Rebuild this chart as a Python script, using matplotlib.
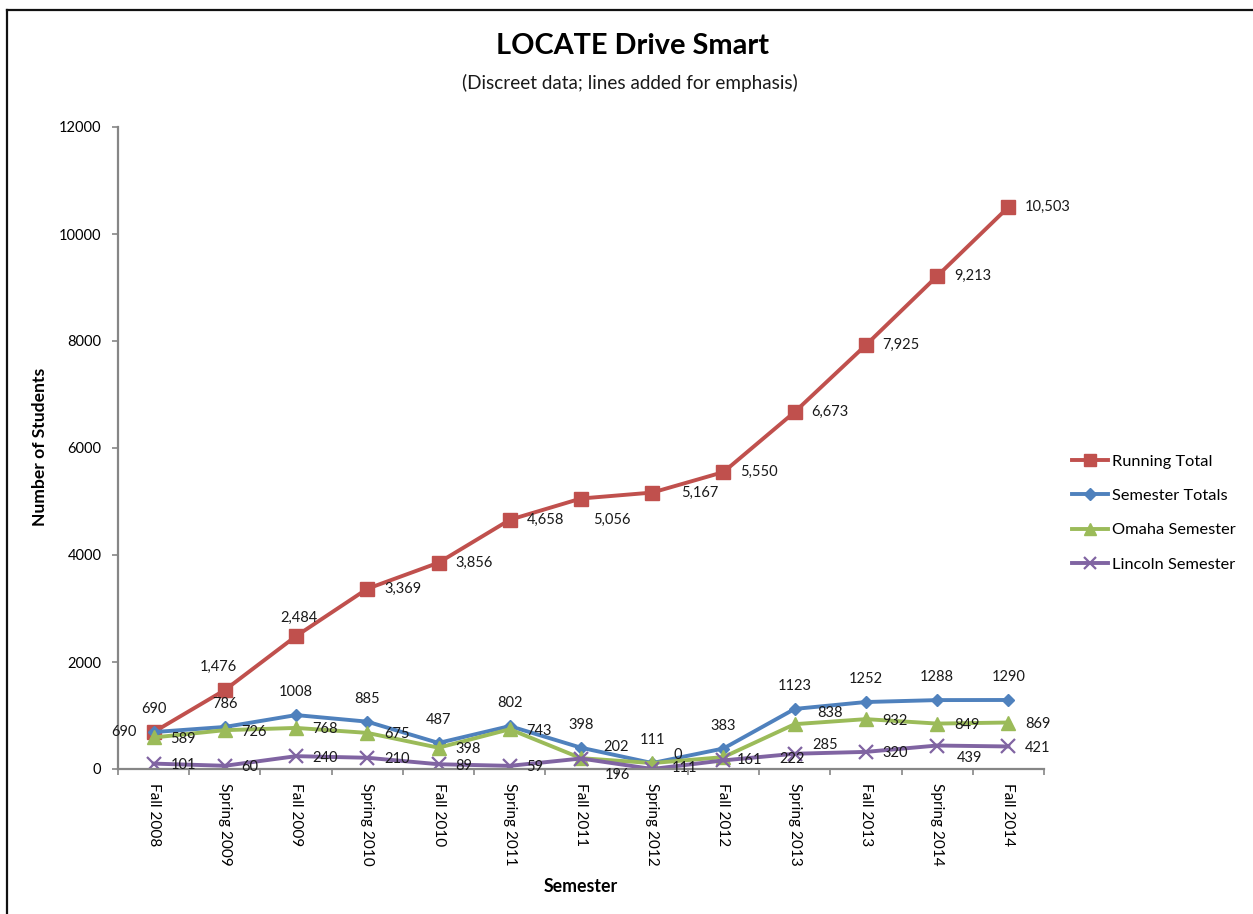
import matplotlib
matplotlib.use("Agg")
import matplotlib.pyplot as plt
from matplotlib.lines import Line2D
import numpy as np

plt.rcParams['font.family'] = ['Lato', 'DejaVu Sans']

semesters = ["Fall 2008", "Spring 2009", "Fall 2009", "Spring 2010", "Fall 2010",
             "Spring 2011", "Fall 2011", "Spring 2012", "Fall 2012", "Spring 2013",
             "Fall 2013", "Spring 2014", "Fall 2014"]
running_total = [690, 1476, 2484, 3369, 3856, 4658, 5056, 5167, 5550, 6673, 7925, 9213, 10503]
semester_totals = [690, 786, 1008, 885, 487, 802, 398, 111, 383, 1123, 1252, 1288, 1290]
omaha_semester = [589, 726, 768, 675, 398, 743, 202, 111, 222, 838, 932, 849, 869]
lincoln_semester = [101, 60, 240, 210, 89, 59, 196, 0, 161, 285, 320, 439, 421]
y_ticks = [0, 2000, 4000, 6000, 8000, 10000, 12000]

W, H = 1253, 914
fig = plt.figure(figsize=(W / 100, H / 100), dpi=100)
fig.patch.set_facecolor('white')

ax = fig.add_axes([118 / W, 1 - 769 / H, (1044 - 118) / W, (769 - 127) / H])
x = np.arange(len(semesters))

series = [
    ("Running Total", running_total, '#C0504D', dict(marker='s', markersize=9.5)),
    ("Semester Totals", semester_totals, '#4F81BD', dict(marker='D', markersize=6.5)),
    ("Omaha Semester", omaha_semester, '#9BBB59', dict(marker='^', markersize=9.5)),
    ("Lincoln Semester", lincoln_semester, '#8064A2', dict(marker='x', markersize=9.5, markeredgewidth=1.6)),
]
for name, vals, col, mk in series:
    ax.plot(x, vals, color=col, linewidth=2.8, label=name,
            markerfacecolor=col, markeredgecolor=col, **mk)

# Data labels
fs = 10.5
def lab(vals, fmt, default, overrides):
    for i, v in enumerate(vals):
        dx, dy, ha = overrides.get(i, default)
        ax.annotate(fmt(v), (x[i], v), xytext=(dx, dy), textcoords='offset points',
                    ha=ha, va='center', fontsize=fs, color='#1a1a1a', zorder=10)

lab(running_total, lambda v: f"{v:,}", (12, 0, 'left'),
    {0: (-12, 0, 'right'), 1: (-5, 16.5, 'center'), 2: (2, 13, 'center'),
     6: (8.5, -15.5, 'left'), 7: (21, 0, 'left')})
lab(semester_totals, lambda v: f"{v}", (0, 16.5, 'center'), {})
lab(omaha_semester, lambda v: f"{v}", (12, -1, 'left'),
    {6: (16, 8, 'left'), 7: (14, -3.5, 'left'), 8: (40, -1.5, 'left'), 9: (16, 8, 'left')})
lab(lincoln_semester, lambda v: f"{v}", (12, -1, 'left'),
    {6: (17, -12, 'left'), 7: (15, 10, 'left'), 8: (9.5, 0, 'left'),
     9: (13, 6.5, 'left'), 11: (14.5, -9, 'left')})

# Axes styling
ax.set_xlim(-0.5, len(semesters) - 0.5)
ax.set_ylim(0, 12000)
ax.set_yticks(y_ticks)
ax.set_yticklabels([str(t) for t in y_ticks], fontsize=fs)
ax.set_xticks(np.arange(-0.5, len(semesters), 1.0))
ax.set_xticklabels([])
ax.set_xticks(x, minor=True)
ax.set_xticklabels(semesters, minor=True, rotation=270, fontsize=fs + 0.6, va='top', ha='center')
ax.tick_params(axis='x', which='minor', length=0, pad=10)
ax.tick_params(axis='x', which='major', length=4, width=1.2, color='#868686', direction='out')
ax.tick_params(axis='y', length=4, width=1.2, color='#868686', direction='out', pad=8)
for s in ['top', 'right']:
    ax.spines[s].set_visible(False)
for s in ['left', 'bottom']:
    ax.spines[s].set_color('#868686')
    ax.spines[s].set_linewidth(1.6)

# Titles
fig.text(632 / W, 1 - 46 / H, "LOCATE Drive Smart", ha='center', va='center',
         fontsize=20.8, fontweight='bold', color='black')
fig.text(629.5 / W, 1 - 83 / H, "(Discreet data; lines added for emphasis)", ha='center',
         va='center', fontsize=13.6, color='#1a1a1a')
fig.text(40 / W, 1 - 447 / H, "Number of Students", ha='center', va='center', rotation=90,
         fontsize=12.6, fontweight='bold')
fig.text(581 / W, 1 - 886 / H, "Semester", ha='center', va='center', fontsize=12.8,
         fontweight='bold')

# Legend
fig.legend(loc='center left', bbox_to_anchor=(1072 / W, 1 - 513 / H), frameon=False,
           fontsize=11.8, handlelength=2.2, handletextpad=0.25, labelspacing=1.22,
           borderpad=0, borderaxespad=0, markerscale=0.9)

# Outer border (top and left)
fig.add_artist(Line2D([7 / W, 1], [1 - 10 / H, 1 - 10 / H], transform=fig.transFigure,
                      color='#111111', linewidth=1.6))
fig.add_artist(Line2D([7 / W, 7 / W], [0, 1 - 10 / H], transform=fig.transFigure,
                      color='#111111', linewidth=1.6))

fig.savefig("out.png", dpi=100, facecolor='white')
